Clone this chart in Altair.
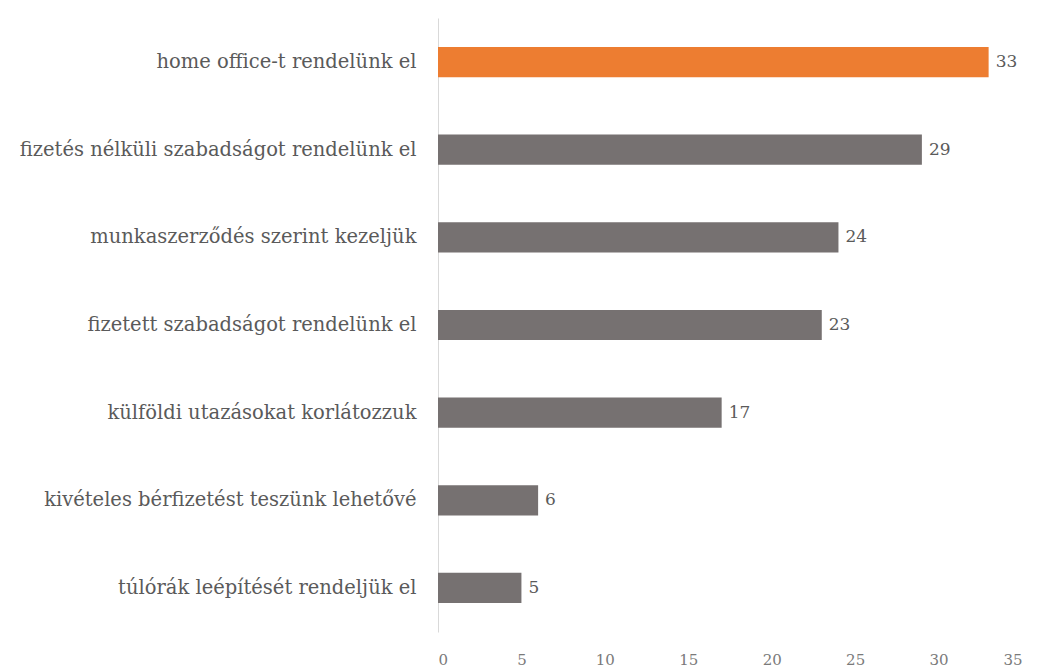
import altair as alt
import pandas as pd

categories = [
    "home office-t rendelünk el",
    "fizetés nélküli szabadságot rendelünk el",
    "munkaszerződés szerint kezeljük",
    "fizetett szabadságot rendelünk el",
    "külföldi utazásokat korlátozzuk",
    "kivételes bérfizetést teszünk lehetővé",
    "túlórák leépítését rendeljük el",
]
values = [33, 29, 24, 23, 17, 6, 5]
highlight = [True, False, False, False, False, False, False]

df = pd.DataFrame({"cat": categories, "val": values, "hl": highlight})

FONT = "DejaVu Serif"

y_enc = alt.Y("cat:N", sort=categories, title=None,
              scale=alt.Scale(paddingInner=0.655, paddingOuter=0.33),
              axis=alt.Axis(domain=True, domainColor="#d9d9d9", domainWidth=1,
                            ticks=False, labelFont=FONT, labelFontSize=19.5,
                            labelColor="#5a5a5a", labelPadding=22, labelLimit=500))
x_enc = alt.X("val:Q", title=None,
              scale=alt.Scale(domain=[0, 35], nice=False),
              axis=alt.Axis(values=[0, 5, 10, 15, 20, 25, 30, 35], domain=False,
                            ticks=False, grid=False, labelFont=FONT, labelFontSize=15,
                            labelColor="#7a7a7a", labelPadding=20))

bars = alt.Chart(df).mark_bar().encode(
    y=y_enc, x=x_enc,
    color=alt.Color("hl:N", scale=alt.Scale(domain=[True, False], range=["#ED7D31", "#767171"]), legend=None),
)
text = alt.Chart(df).mark_text(align="left", dx=7, font=FONT, fontSize=17, color="#5a5a5a").encode(
    y=alt.Y("cat:N", sort=categories), x="val:Q", text="val:Q"
)

chart = (bars + text).properties(
    width=584, height=614,
    autosize=alt.AutoSizeParams(type="none"),
    padding={"left": 438, "top": 18, "right": 16, "bottom": 38},
).configure_view(stroke=None)

chart.save("out.html", embed_options={"renderer": "svg", "actions": False})
